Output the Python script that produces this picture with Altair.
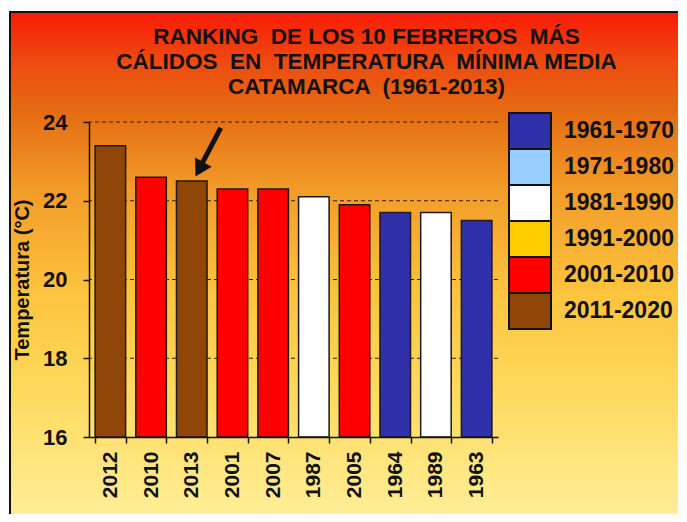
import altair as alt
import pandas as pd

# ---- data ----
years = ["2012", "2010", "2013", "2001", "2007", "1987", "2005", "1964", "1989", "1963"]
temps = [23.4, 22.6, 22.5, 22.3, 22.3, 22.1, 21.9, 21.7, 21.7, 21.5]
decades = ["2011-2020", "2001-2010", "2011-2020", "2001-2010", "2001-2010",
           "1981-1990", "2001-2010", "1961-1970", "1981-1990", "1961-1970"]

decade_names = ["1961-1970", "1971-1980", "1981-1990", "1991-2000", "2001-2010", "2011-2020"]
decade_colors = ["#3030AA", "#99CCFF", "#FFFFFF", "#FFCC00", "#FF0000", "#8F4608"]

y_ticks = [16, 18, 20, 22, 24]
grid_lines = [18, 20, 22, 24]

title_lines = [
    "RANKING \u00a0DE LOS 10 FEBREROS \u00a0MÁS",
    "CÁLIDOS \u00a0EN \u00a0TEMPERATURA \u00a0MÍNIMA MEDIA",
    "CATAMARCA \u00a0(1961-2013)",
]

# arrow annotation pointing at 2013
arrow_year = ["2013"]
arrow_tail = [23.85]
arrow_end = [22.98]
arrow_head = [22.86]

FONT = "Liberation Sans"

df = pd.DataFrame({"year": years, "temp": temps, "decade": decades})
arrow_df = pd.DataFrame({"year": arrow_year, "tail": arrow_tail, "end": arrow_end, "head": arrow_head})
legend_df = pd.DataFrame({"decade": decade_names})

x_scale = alt.Scale(domain=years, paddingInner=0.25, paddingOuter=0.15)
y_scale = alt.Scale(domain=[16, 24], nice=False, zero=False, clamp=True)
color_scale = alt.Scale(domain=decade_names, range=decade_colors)
legend_y_scale = alt.Scale(domain=decade_names, range=[-9, 207], paddingInner=0, paddingOuter=0)

gradient = {
    "gradient": "linear",
    "x1": 0, "x2": 0, "y1": 0, "y2": 1,
    "stops": [
        {"offset": 0.0, "color": "#FA1A05"},
        {"offset": 0.1, "color": "#EE4A10"},
        {"offset": 0.2, "color": "#E46C12"},
        {"offset": 0.35, "color": "#F29A28"},
        {"offset": 0.55, "color": "#FCC23C"},
        {"offset": 0.75, "color": "#FFD95C"},
        {"offset": 1.0, "color": "#FFEE96"},
    ],
}

blank = alt.Data(values=[{}])

background = alt.Chart(blank).mark_rect(fill=gradient, strokeWidth=0).encode(
    x=alt.value(-80), x2=alt.value(589), y=alt.value(-111), y2=alt.value(392)
)
border_top = alt.Chart(blank).mark_rule(color="#111", strokeWidth=2).encode(
    x=alt.value(-80), x2=alt.value(589), y=alt.value(-110)
)
border_left = alt.Chart(blank).mark_rule(color="#111", strokeWidth=2).encode(
    x=alt.value(-79), y=alt.value(-111), y2=alt.value(392)
)

grid = alt.Chart(pd.DataFrame({"g": grid_lines})).mark_rule(
    color="#222", strokeWidth=1.2, strokeDash=[4, 3]
).encode(y=alt.Y("g:Q", scale=y_scale))

bars = alt.Chart(df).mark_bar(stroke="#1a1a1a", strokeWidth=1.5).encode(
    x=alt.X("year:N", scale=x_scale, sort=years,
            axis=alt.Axis(title=None, labelAngle=270, labelAlign="right", labelBaseline="middle",
                          labelFont=FONT, labelFontWeight="bold",
                          labelFontSize=21, labelColor="#111", labelPadding=8,
                          tickBand="extent", tickSize=6, tickColor="#111", tickWidth=1.5,
                          domainColor="#111", domainWidth=1.5, grid=False, zindex=1)),
    y=alt.Y("temp:Q", scale=y_scale,
            axis=alt.Axis(title="Temperatura (°C)", values=y_ticks, titleFont=FONT,
                          titleFontWeight="bold", titleFontSize=20, titleColor="#111",
                          titlePadding=10,
                          labelFont=FONT, labelFontWeight="bold", labelFontSize=22,
                          labelColor="#111", labelPadding=16, tickSize=6, tickColor="#111",
                          tickWidth=1.5, domainColor="#111", domainWidth=1.5, grid=False,
                          zindex=1)),
    color=alt.Color("decade:N", scale=color_scale, legend=None),
)

arrow_shaft = alt.Chart(arrow_df).mark_rule(
    color="#111", strokeWidth=5, xOffset=29, x2Offset=11, strokeCap="butt"
).encode(
    x=alt.X("year:N", scale=x_scale), x2="year:N",
    y=alt.Y("tail:Q", scale=y_scale), y2="end:Q",
)
arrow_tip = alt.Chart(arrow_df).mark_point(
    shape="triangle", filled=True, color="#111", size=360, angle=209, xOffset=9, opacity=1
).encode(
    x=alt.X("year:N", scale=x_scale),
    y=alt.Y("head:Q", scale=y_scale),
)

main = alt.layer(background, border_top, border_left, grid, bars, arrow_shaft, arrow_tip)

# legend drawn as its own layer (boxes stacked and touching, as in the reference)
legend_boxes = alt.Chart(legend_df).mark_rect(stroke="#111", strokeWidth=2).encode(
    y=alt.Y("decade:N", scale=legend_y_scale, sort=decade_names, axis=None),
    x=alt.value(420), x2=alt.value(462),
    color=alt.Color("decade:N", scale=color_scale, legend=None),
)
legend_labels = alt.Chart(legend_df).mark_text(
    align="left", baseline="middle", font=FONT, fontWeight="bold", fontSize=23, color="#111"
).encode(
    y=alt.Y("decade:N", scale=legend_y_scale, sort=decade_names, axis=None),
    x=alt.value(475),
    text="decade:N",
)

chart = alt.layer(main, legend_boxes, legend_labels).resolve_scale(y="independent").properties(
    width=409,
    height=315,
    padding={"left": 0, "top": 2, "right": 0, "bottom": 0},
    title=alt.TitleParams(text=title_lines, font=FONT, fontWeight="bold", fontSize=22.5,
                          color="#111", anchor="middle", frame="group", dx=73,
                          offset=-88, lineHeight=25, zindex=1),
).configure_view(stroke=None)

chart.save("out.html", embed_options={"renderer": "svg", "actions": False})
